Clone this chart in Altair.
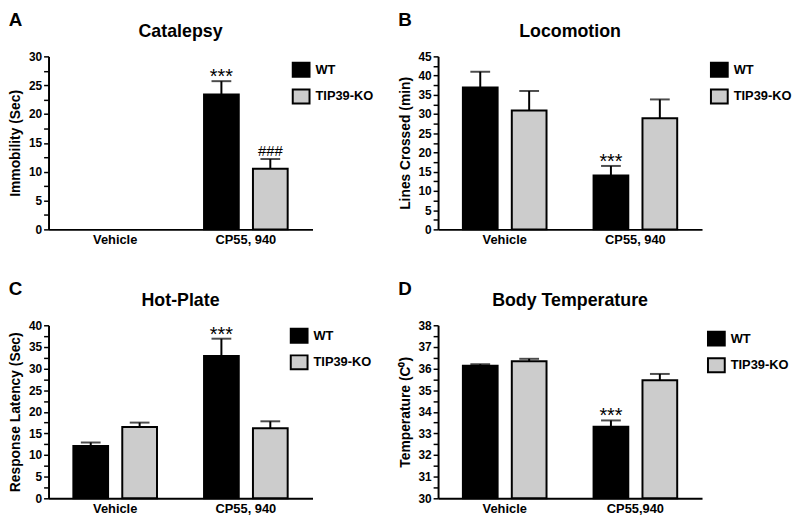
import altair as alt
import pandas as pd

FONT = "Liberation Sans"

genotypes = ["WT", "TIP39-KO"]
treatments = ["Vehicle", "CP55, 940"]
treatments_d = ["Vehicle", "CP55,940"]

# order: Vehicle-WT, Vehicle-KO, CP55-WT, CP55-KO
catalepsy_mean = [None, None, 23.4, 10.5]
catalepsy_sem = [None, None, 2.3, 1.7]
catalepsy_sig = ["", "", "***", "###"]

locomotion_mean = [36.9, 30.9, 14.0, 28.9]
locomotion_sem = [4.1, 5.1, 2.5, 4.9]
locomotion_sig = ["", "", "***", ""]

hotplate_mean = [12.1, 16.5, 32.9, 16.2]
hotplate_sem = [0.8, 1.0, 4.0, 1.6]
hotplate_sig = ["", "", "***", ""]

temp_mean = [36.13, 36.34, 33.31, 35.46]
temp_sem = [0.07, 0.11, 0.29, 0.29]
temp_sig = ["", "", "***", ""]

W, H = 267, 175
BAR_FILL = ["#000000", "#cccccc"]


def panel(letter, title, ytitle, treat, mean, sem, sig, domain, major, minor, base, lx, ly):
    df = pd.DataFrame({
        "treatment": [t for t in treat for _ in genotypes],
        "genotype": genotypes * len(treat),
        "mean": mean,
        "sem": sem,
        "sig": sig,
    }).dropna(subset=["mean"])
    df["top"] = df["mean"] + df["sem"]

    n = int(round((domain[1] - domain[0]) / minor))
    tick_vals = [domain[0] + i * minor for i in range(n + 1)]
    ratio = int(round(major / minor))
    lab_expr = f"round((datum.value - {domain[0]}) / {minor}) % {ratio} == 0 ? format(datum.value, 'd') : ''"

    yscale = alt.Scale(domain=domain, nice=False, zero=False)
    yaxis = alt.Axis(title=ytitle, values=tick_vals, labelExpr=lab_expr,
                     labelOverlap=False, labelFlush=False,
                     tickSize=5, tickColor="black", tickWidth=1.5,
                     domainColor="black", domainWidth=2,
                     labelFontSize=12, labelFontWeight="bold", labelColor="black",
                     labelPadding=2, labelFont=FONT, grid=False,
                     titleFontSize=14, titleFontWeight="bold", titleColor="black",
                     titleFont=FONT, titlePadding=6)
    x = alt.X("treatment:N",
              scale=alt.Scale(domain=treat, paddingInner=0.36, paddingOuter=0.19),
              axis=alt.Axis(title=None, labelAngle=0, ticks=False, labelPadding=4,
                            labelFontSize=13, labelFontWeight="bold", labelColor="black",
                            domainColor="black", domainWidth=2, labelFont=FONT))
    xo = alt.XOffset("genotype:N", scale=alt.Scale(domain=genotypes, paddingInner=0.29, paddingOuter=0))
    y_mean = alt.Y("mean:Q", scale=yscale, axis=yaxis)
    y_top = alt.Y("top:Q", scale=yscale, axis=yaxis)

    chart = alt.Chart(df)
    bars = chart.mark_bar(stroke="black", strokeWidth=2).encode(
        x=x, xOffset=xo, y=y_mean, y2=alt.datum(base),
        fill=alt.Fill("genotype:N",
                      scale=alt.Scale(domain=genotypes, range=BAR_FILL),
                      legend=alt.Legend(title=None, orient="none", legendX=lx, legendY=ly,
                                        symbolType="M-1.2,-1L1.2,-1L1.2,1L-1.2,1Z",
                                        symbolSize=200, symbolStrokeColor="black",
                                        symbolStrokeWidth=2, labelFontSize=13,
                                        labelFontWeight="bold", labelColor="black",
                                        labelFont=FONT, rowPadding=4, labelOffset=6)),
    )
    rules = chart.mark_rule(color="black", strokeWidth=2).encode(
        x=x, xOffset=xo, y=y_mean, y2="top:Q")
    caps = chart.mark_tick(color="black", thickness=2, size=20).encode(
        x=x, xOffset=xo, y=y_top)
    stars = chart.transform_filter("datum.sig == '***'").mark_text(
        fontSize=20, font=FONT, color="black", baseline="alphabetic", dy=2).encode(
        x=x, xOffset=xo, y=y_top, text="sig:N")
    hashes = chart.transform_filter("datum.sig == '###'").mark_text(
        fontSize=15, font=FONT, color="black", baseline="alphabetic", dy=-3).encode(
        x=x, xOffset=xo, y=y_top, text="sig:N")
    head = alt.Chart(pd.DataFrame({"t": [title]})).mark_text(
        fontSize=18, fontWeight="bold", font=FONT, color="black", baseline="alphabetic"
    ).encode(text="t:N", x=alt.value(W / 2), y=alt.value(-20))

    return alt.layer(bars, rules, caps, stars, hashes, head).properties(
        width=W, height=H,
        title=alt.TitleParams(letter, anchor="start", frame="bounds", fontSize=19,
                              fontWeight="bold", font=FONT, color="black", offset=-7),
    )


pA = panel("A", "Catalepsy", "Immobility (Sec)", treatments, catalepsy_mean, catalepsy_sem,
           catalepsy_sig, [0, 30], 5, 2.5, 0, 247, 5)
pB = panel("B", "Locomotion", "Lines Crossed (min)", treatments, locomotion_mean, locomotion_sem,
           locomotion_sig, [0, 45], 5, 2.5, 0, 276, 5)
pC = panel("C", "Hot-Plate", "Response Latency (Sec)", treatments, hotplate_mean, hotplate_sem,
           hotplate_sig, [0, 40], 5, 2.5, 0, 245, 2)
pD = panel("D", "Body Temperature", "Temperature (C\u2070)", treatments_d, temp_mean, temp_sem,
           temp_sig, [30, 38], 1, 0.5, 30, 273, 5)

chart = alt.concat(pA, pB, pC, pD, columns=2, spacing={"row": 34, "column": 24}).resolve_scale(
    fill="independent", x="independent", y="independent"
).resolve_legend(fill="independent").properties(padding=0).configure(
    background="white", font=FONT, view=alt.ViewConfig(stroke=None)
)

chart.save("out.html", embed_options={"renderer": "svg", "actions": False})
